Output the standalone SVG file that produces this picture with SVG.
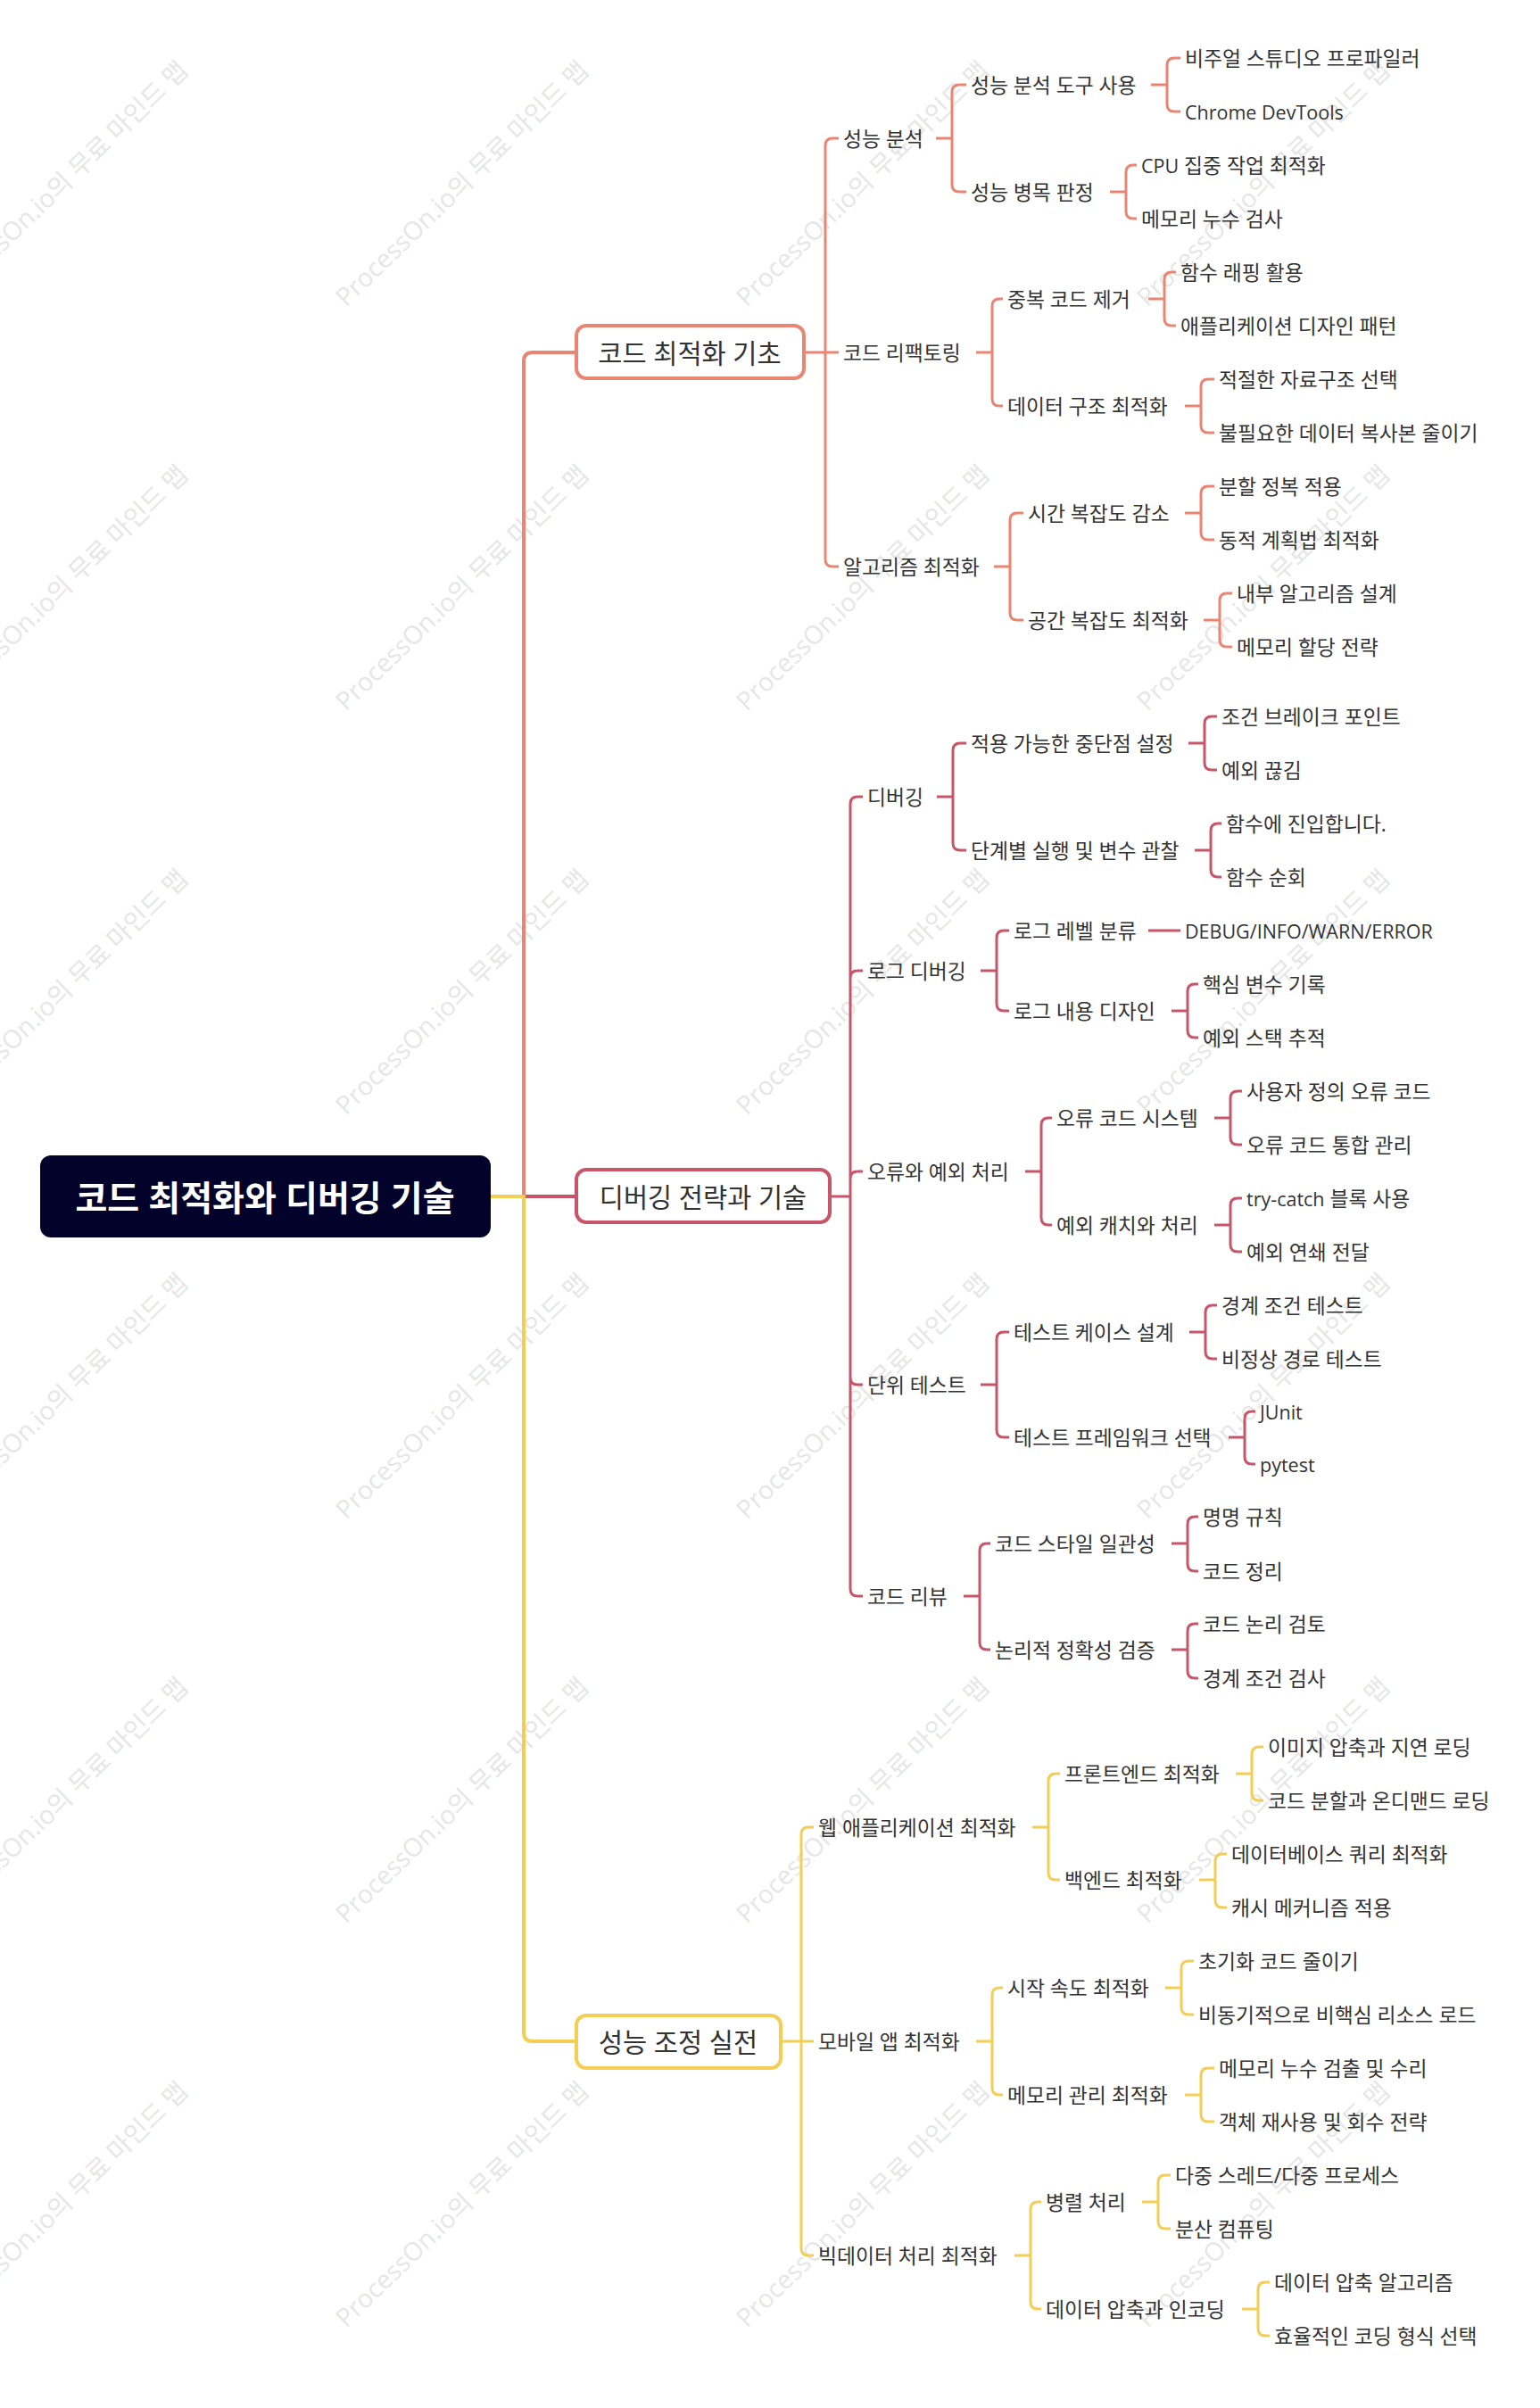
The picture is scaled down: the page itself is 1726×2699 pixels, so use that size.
<svg xmlns="http://www.w3.org/2000/svg" width="1726" height="2699" viewBox="0 0 1726 2699">
<style>
.t{font-family:"Open Sans","Noto Sans CJK KR",sans-serif;font-size:22.8px;fill:#333;dominant-baseline:central}
.l{font-size:21.5px}
.n1{font-family:"Open Sans","Noto Sans CJK KR",sans-serif;font-size:29.5px;fill:#333;text-anchor:middle;dominant-baseline:central}
.rt{font-family:"Open Sans","Noto Sans CJK KR",sans-serif;font-size:39px;font-weight:bold;fill:#fff;text-anchor:middle;dominant-baseline:central}
.wm{font-family:"Open Sans","Noto Sans CJK KR",sans-serif;font-size:28.5px;fill:#e6e6e6}
.c{fill:none;stroke-width:3;stroke-linejoin:round}
.c1{stroke:#EB8573}.c2{stroke:#C85569}.c3{stroke:#F4CD55}
.b{fill:#fff;stroke-width:4}
</style>
<rect width="1726" height="2699" fill="#fff"/>
<g id="watermarks">
<text class="wm" transform="translate(-61 345) rotate(-44)">ProcessOn.io의 무료 마인드 맵</text>
<text class="wm" transform="translate(388 345) rotate(-44)">ProcessOn.io의 무료 마인드 맵</text>
<text class="wm" transform="translate(837 345) rotate(-44)">ProcessOn.io의 무료 마인드 맵</text>
<text class="wm" transform="translate(1286 345) rotate(-44)">ProcessOn.io의 무료 마인드 맵</text>
<text class="wm" transform="translate(-61 798) rotate(-44)">ProcessOn.io의 무료 마인드 맵</text>
<text class="wm" transform="translate(388 798) rotate(-44)">ProcessOn.io의 무료 마인드 맵</text>
<text class="wm" transform="translate(837 798) rotate(-44)">ProcessOn.io의 무료 마인드 맵</text>
<text class="wm" transform="translate(1286 798) rotate(-44)">ProcessOn.io의 무료 마인드 맵</text>
<text class="wm" transform="translate(-61 1251) rotate(-44)">ProcessOn.io의 무료 마인드 맵</text>
<text class="wm" transform="translate(388 1251) rotate(-44)">ProcessOn.io의 무료 마인드 맵</text>
<text class="wm" transform="translate(837 1251) rotate(-44)">ProcessOn.io의 무료 마인드 맵</text>
<text class="wm" transform="translate(1286 1251) rotate(-44)">ProcessOn.io의 무료 마인드 맵</text>
<text class="wm" transform="translate(-61 1704) rotate(-44)">ProcessOn.io의 무료 마인드 맵</text>
<text class="wm" transform="translate(388 1704) rotate(-44)">ProcessOn.io의 무료 마인드 맵</text>
<text class="wm" transform="translate(837 1704) rotate(-44)">ProcessOn.io의 무료 마인드 맵</text>
<text class="wm" transform="translate(1286 1704) rotate(-44)">ProcessOn.io의 무료 마인드 맵</text>
<text class="wm" transform="translate(-61 2157) rotate(-44)">ProcessOn.io의 무료 마인드 맵</text>
<text class="wm" transform="translate(388 2157) rotate(-44)">ProcessOn.io의 무료 마인드 맵</text>
<text class="wm" transform="translate(837 2157) rotate(-44)">ProcessOn.io의 무료 마인드 맵</text>
<text class="wm" transform="translate(1286 2157) rotate(-44)">ProcessOn.io의 무료 마인드 맵</text>
<text class="wm" transform="translate(-61 2610) rotate(-44)">ProcessOn.io의 무료 마인드 맵</text>
<text class="wm" transform="translate(388 2610) rotate(-44)">ProcessOn.io의 무료 마인드 맵</text>
<text class="wm" transform="translate(837 2610) rotate(-44)">ProcessOn.io의 무료 마인드 맵</text>
<text class="wm" transform="translate(1286 2610) rotate(-44)">ProcessOn.io의 무료 마인드 맵</text>
</g>
<g id="connectors">
<path class="c c2" style="stroke-width:4" d="M587 1341H644"/>
<path class="c c1" style="stroke-width:4" d="M587 1341V405Q587 395 597 395H646"/>
<path class="c c3" style="stroke-width:4" d="M550 1341H587V2278Q587 2288 597 2288H646"/>
<path class="c c1" d="M903 395H925M925 395V163Q925 155 933 155H940M925 395H940M925 395V627Q925 635 933 635H940"/>
<path class="c c1" d="M1049 155H1067M1067 155V103Q1067 95 1075 95H1083M1067 155V207Q1067 215 1075 215H1083"/>
<path class="c c1" d="M1290 95H1308M1308 95V73Q1308 65 1316 65H1323M1308 95V117Q1308 125 1316 125H1323"/>
<path class="c c1" d="M1244 215H1262M1262 215V193Q1262 185 1270 185H1274M1262 215V237Q1262 245 1270 245H1274"/>
<path class="c c1" d="M1094 395H1112M1112 395V343Q1112 335 1120 335H1124M1112 395V447Q1112 455 1120 455H1124"/>
<path class="c c1" d="M1287 335H1305M1305 335V313Q1305 305 1313 305H1318M1305 335V357Q1305 365 1313 365H1318"/>
<path class="c c1" d="M1328 455H1346M1346 455V433Q1346 425 1354 425H1361M1346 455V477Q1346 485 1354 485H1361"/>
<path class="c c1" d="M1114 635H1132M1132 635V583Q1132 575 1140 575H1147M1132 635V687Q1132 695 1140 695H1147"/>
<path class="c c1" d="M1328 575H1346M1346 575V553Q1346 545 1354 545H1361M1346 575V597Q1346 605 1354 605H1361"/>
<path class="c c1" d="M1349 695H1367M1367 695V673Q1367 665 1375 665H1381M1367 695V717Q1367 725 1375 725H1381"/>
<path class="c c2" d="M932 1341H953M953 1341V901Q953 893 961 893H967M953 1341V1096Q953 1088 961 1088H967M953 1341V1321Q953 1313 961 1313H967M953 1341V1544Q953 1552 961 1552H967M953 1341V1781Q953 1789 961 1789H967"/>
<path class="c c2" d="M1050 893H1068M1068 893V841Q1068 833 1076 833H1083M1068 893V945Q1068 953 1076 953H1083"/>
<path class="c c2" d="M1332 833H1350M1350 833V811Q1350 803 1358 803H1364M1350 833V855Q1350 863 1358 863H1364"/>
<path class="c c2" d="M1339 953H1357M1357 953V931Q1357 923 1365 923H1369M1357 953V975Q1357 983 1365 983H1369"/>
<path class="c c2" d="M1099 1088H1117M1117 1088V1051Q1117 1043 1125 1043H1131M1117 1088V1125Q1117 1133 1125 1133H1131"/>
<path class="c c2" d="M1287 1043H1323"/>
<path class="c c2" d="M1313 1133H1331M1331 1133V1111Q1331 1103 1339 1103H1343M1331 1133V1155Q1331 1163 1339 1163H1343"/>
<path class="c c2" d="M1149 1313H1167M1167 1313V1261Q1167 1253 1175 1253H1179M1167 1313V1365Q1167 1373 1175 1373H1179"/>
<path class="c c2" d="M1361 1253H1379M1379 1253V1231Q1379 1223 1387 1223H1392M1379 1253V1275Q1379 1283 1387 1283H1392"/>
<path class="c c2" d="M1361 1373H1379M1379 1373V1351Q1379 1343 1387 1343H1392M1379 1373V1395Q1379 1403 1387 1403H1392"/>
<path class="c c2" d="M1099 1552H1117M1117 1552V1501Q1117 1493 1125 1493H1131M1117 1552V1603Q1117 1611 1125 1611H1131"/>
<path class="c c2" d="M1333 1493H1351M1351 1493V1471Q1351 1463 1359 1463H1364M1351 1493V1515Q1351 1523 1359 1523H1364"/>
<path class="c c2" d="M1377 1611H1395M1395 1611V1590Q1395 1582 1403 1582H1407M1395 1611V1633Q1395 1641 1403 1641H1407"/>
<path class="c c2" d="M1080 1789H1098M1098 1789V1738Q1098 1730 1106 1730H1110M1098 1789V1841Q1098 1849 1106 1849H1110"/>
<path class="c c2" d="M1313 1730H1331M1331 1730V1708Q1331 1700 1339 1700H1343M1331 1730V1753Q1331 1761 1339 1761H1343"/>
<path class="c c2" d="M1313 1849H1331M1331 1849V1828Q1331 1820 1339 1820H1343M1331 1849V1873Q1331 1881 1339 1881H1343"/>
<path class="c c3" d="M877 2288H898M898 2288V2056Q898 2048 906 2048H912M898 2288H912M898 2288V2520Q898 2528 906 2528H912"/>
<path class="c c3" d="M1157 2048H1175M1175 2048V1996Q1175 1988 1183 1988H1188M1175 2048V2099Q1175 2107 1183 2107H1188"/>
<path class="c c3" d="M1385 1988H1403M1403 1988V1966Q1403 1958 1411 1958H1416M1403 1988V2010Q1403 2018 1411 2018H1416"/>
<path class="c c3" d="M1344 2107H1362M1362 2107V2086Q1362 2078 1370 2078H1375M1362 2107V2130Q1362 2138 1370 2138H1375"/>
<path class="c c3" d="M1094 2288H1112M1112 2288V2236Q1112 2228 1120 2228H1124M1112 2288V2340Q1112 2348 1120 2348H1124"/>
<path class="c c3" d="M1306 2228H1324M1324 2228V2206Q1324 2198 1332 2198H1338M1324 2228V2250Q1324 2258 1332 2258H1338"/>
<path class="c c3" d="M1328 2348H1346M1346 2348V2326Q1346 2318 1354 2318H1361M1346 2348V2370Q1346 2378 1354 2378H1361"/>
<path class="c c3" d="M1137 2528H1155M1155 2528V2476Q1155 2468 1163 2468H1167M1155 2528V2580Q1155 2588 1163 2588H1167"/>
<path class="c c3" d="M1280 2468H1298M1298 2468V2446Q1298 2438 1306 2438H1312M1298 2468V2490Q1298 2498 1306 2498H1312"/>
<path class="c c3" d="M1392 2588H1410M1410 2588V2566Q1410 2558 1418 2558H1423M1410 2588V2610Q1410 2618 1418 2618H1423"/>
</g>
<g id="root"><rect x="45" y="1295" width="505" height="92" rx="12" fill="#02022A"/><text class="rt" x="297" y="1341">코드 최적화와 디버깅 기술</text></g>
<g id="n1"><rect class="b" x="646" y="365" width="255" height="59" rx="11" stroke="#EB8573"/><text class="n1" x="773" y="395">코드 최적화 기초</text></g>
<g id="n2"><rect class="b" x="646" y="1311" width="284" height="59" rx="11" stroke="#C85569"/><text class="n1" x="788" y="1341">디버깅 전략과 기술</text></g>
<g id="n3"><rect class="b" x="646" y="2259" width="229" height="59" rx="11" stroke="#F4CD55"/><text class="n1" x="760" y="2288">성능 조정 실전</text></g>
<g id="n1-1"><text class="t" x="945" y="155">성능 분석</text></g>
<g id="n1-1-1"><text class="t" x="1088" y="95">성능 분석 도구 사용</text></g>
<g id="n1-1-1-1"><text class="t" x="1328" y="65">비주얼 스튜디오 프로파일러</text></g>
<g id="n1-1-1-2"><text class="t l" x="1328" y="125">Chrome DevTools</text></g>
<g id="n1-1-2"><text class="t" x="1088" y="215">성능 병목 판정</text></g>
<g id="n1-1-2-1"><text class="t" x="1279" y="185"><tspan class="l">CPU</tspan> 집중 작업 최적화</text></g>
<g id="n1-1-2-2"><text class="t" x="1279" y="245">메모리 누수 검사</text></g>
<g id="n1-2"><text class="t" x="945" y="395">코드 리팩토링</text></g>
<g id="n1-2-1"><text class="t" x="1129" y="335">중복 코드 제거</text></g>
<g id="n1-2-1-1"><text class="t" x="1323" y="305">함수 래핑 활용</text></g>
<g id="n1-2-1-2"><text class="t" x="1323" y="365">애플리케이션 디자인 패턴</text></g>
<g id="n1-2-2"><text class="t" x="1129" y="455">데이터 구조 최적화</text></g>
<g id="n1-2-2-1"><text class="t" x="1366" y="425">적절한 자료구조 선택</text></g>
<g id="n1-2-2-2"><text class="t" x="1366" y="485">불필요한 데이터 복사본 줄이기</text></g>
<g id="n1-3"><text class="t" x="945" y="635">알고리즘 최적화</text></g>
<g id="n1-3-1"><text class="t" x="1152" y="575">시간 복잡도 감소</text></g>
<g id="n1-3-1-1"><text class="t" x="1366" y="545">분할 정복 적용</text></g>
<g id="n1-3-1-2"><text class="t" x="1366" y="605">동적 계획법 최적화</text></g>
<g id="n1-3-2"><text class="t" x="1152" y="695">공간 복잡도 최적화</text></g>
<g id="n1-3-2-1"><text class="t" x="1386" y="665">내부 알고리즘 설계</text></g>
<g id="n1-3-2-2"><text class="t" x="1386" y="725">메모리 할당 전략</text></g>
<g id="n2-1"><text class="t" x="972" y="893">디버깅</text></g>
<g id="n2-1-1"><text class="t" x="1088" y="833">적용 가능한 중단점 설정</text></g>
<g id="n2-1-1-1"><text class="t" x="1369" y="803">조건 브레이크 포인트</text></g>
<g id="n2-1-1-2"><text class="t" x="1369" y="863">예외 끊김</text></g>
<g id="n2-1-2"><text class="t" x="1088" y="953">단계별 실행 및 변수 관찰</text></g>
<g id="n2-1-2-1"><text class="t" x="1374" y="923">함수에 진입합니다.</text></g>
<g id="n2-1-2-2"><text class="t" x="1374" y="983">함수 순회</text></g>
<g id="n2-2"><text class="t" x="972" y="1088">로그 디버깅</text></g>
<g id="n2-2-1"><text class="t" x="1136" y="1043">로그 레벨 분류</text></g>
<g id="n2-2-1-1"><text class="t l" x="1328" y="1043">DEBUG/INFO/WARN/ERROR</text></g>
<g id="n2-2-2"><text class="t" x="1136" y="1133">로그 내용 디자인</text></g>
<g id="n2-2-2-1"><text class="t" x="1348" y="1103">핵심 변수 기록</text></g>
<g id="n2-2-2-2"><text class="t" x="1348" y="1163">예외 스택 추적</text></g>
<g id="n2-3"><text class="t" x="972" y="1313">오류와 예외 처리</text></g>
<g id="n2-3-1"><text class="t" x="1184" y="1253">오류 코드 시스템</text></g>
<g id="n2-3-1-1"><text class="t" x="1397" y="1223">사용자 정의 오류 코드</text></g>
<g id="n2-3-1-2"><text class="t" x="1397" y="1283">오류 코드 통합 관리</text></g>
<g id="n2-3-2"><text class="t" x="1184" y="1373">예외 캐치와 처리</text></g>
<g id="n2-3-2-1"><text class="t" x="1397" y="1343"><tspan class="l">try-catch</tspan> 블록 사용</text></g>
<g id="n2-3-2-2"><text class="t" x="1397" y="1403">예외 연쇄 전달</text></g>
<g id="n2-4"><text class="t" x="972" y="1552">단위 테스트</text></g>
<g id="n2-4-1"><text class="t" x="1136" y="1493">테스트 케이스 설계</text></g>
<g id="n2-4-1-1"><text class="t" x="1369" y="1463">경계 조건 테스트</text></g>
<g id="n2-4-1-2"><text class="t" x="1369" y="1523">비정상 경로 테스트</text></g>
<g id="n2-4-2"><text class="t" x="1136" y="1611">테스트 프레임워크 선택</text></g>
<g id="n2-4-2-1"><text class="t l" x="1412" y="1582">JUnit</text></g>
<g id="n2-4-2-2"><text class="t l" x="1412" y="1641">pytest</text></g>
<g id="n2-5"><text class="t" x="972" y="1789">코드 리뷰</text></g>
<g id="n2-5-1"><text class="t" x="1115" y="1730">코드 스타일 일관성</text></g>
<g id="n2-5-1-1"><text class="t" x="1348" y="1700">명명 규칙</text></g>
<g id="n2-5-1-2"><text class="t" x="1348" y="1761">코드 정리</text></g>
<g id="n2-5-2"><text class="t" x="1115" y="1849">논리적 정확성 검증</text></g>
<g id="n2-5-2-1"><text class="t" x="1348" y="1820">코드 논리 검토</text></g>
<g id="n2-5-2-2"><text class="t" x="1348" y="1881">경계 조건 검사</text></g>
<g id="n3-1"><text class="t" x="917" y="2048">웹 애플리케이션 최적화</text></g>
<g id="n3-1-1"><text class="t" x="1193" y="1988">프론트엔드 최적화</text></g>
<g id="n3-1-1-1"><text class="t" x="1421" y="1958">이미지 압축과 지연 로딩</text></g>
<g id="n3-1-1-2"><text class="t" x="1421" y="2018">코드 분할과 온디맨드 로딩</text></g>
<g id="n3-1-2"><text class="t" x="1193" y="2107">백엔드 최적화</text></g>
<g id="n3-1-2-1"><text class="t" x="1380" y="2078">데이터베이스 쿼리 최적화</text></g>
<g id="n3-1-2-2"><text class="t" x="1380" y="2138">캐시 메커니즘 적용</text></g>
<g id="n3-2"><text class="t" x="917" y="2288">모바일 앱 최적화</text></g>
<g id="n3-2-1"><text class="t" x="1129" y="2228">시작 속도 최적화</text></g>
<g id="n3-2-1-1"><text class="t" x="1343" y="2198">초기화 코드 줄이기</text></g>
<g id="n3-2-1-2"><text class="t" x="1343" y="2258">비동기적으로 비핵심 리소스 로드</text></g>
<g id="n3-2-2"><text class="t" x="1129" y="2348">메모리 관리 최적화</text></g>
<g id="n3-2-2-1"><text class="t" x="1366" y="2318">메모리 누수 검출 및 수리</text></g>
<g id="n3-2-2-2"><text class="t" x="1366" y="2378">객체 재사용 및 회수 전략</text></g>
<g id="n3-3"><text class="t" x="917" y="2528">빅데이터 처리 최적화</text></g>
<g id="n3-3-1"><text class="t" x="1172" y="2468">병렬 처리</text></g>
<g id="n3-3-1-1"><text class="t" x="1317" y="2438">다중 스레드/다중 프로세스</text></g>
<g id="n3-3-1-2"><text class="t" x="1317" y="2498">분산 컴퓨팅</text></g>
<g id="n3-3-2"><text class="t" x="1172" y="2588">데이터 압축과 인코딩</text></g>
<g id="n3-3-2-1"><text class="t" x="1428" y="2558">데이터 압축 알고리즘</text></g>
<g id="n3-3-2-2"><text class="t" x="1428" y="2618">효율적인 코딩 형식 선택</text></g>
</svg>
